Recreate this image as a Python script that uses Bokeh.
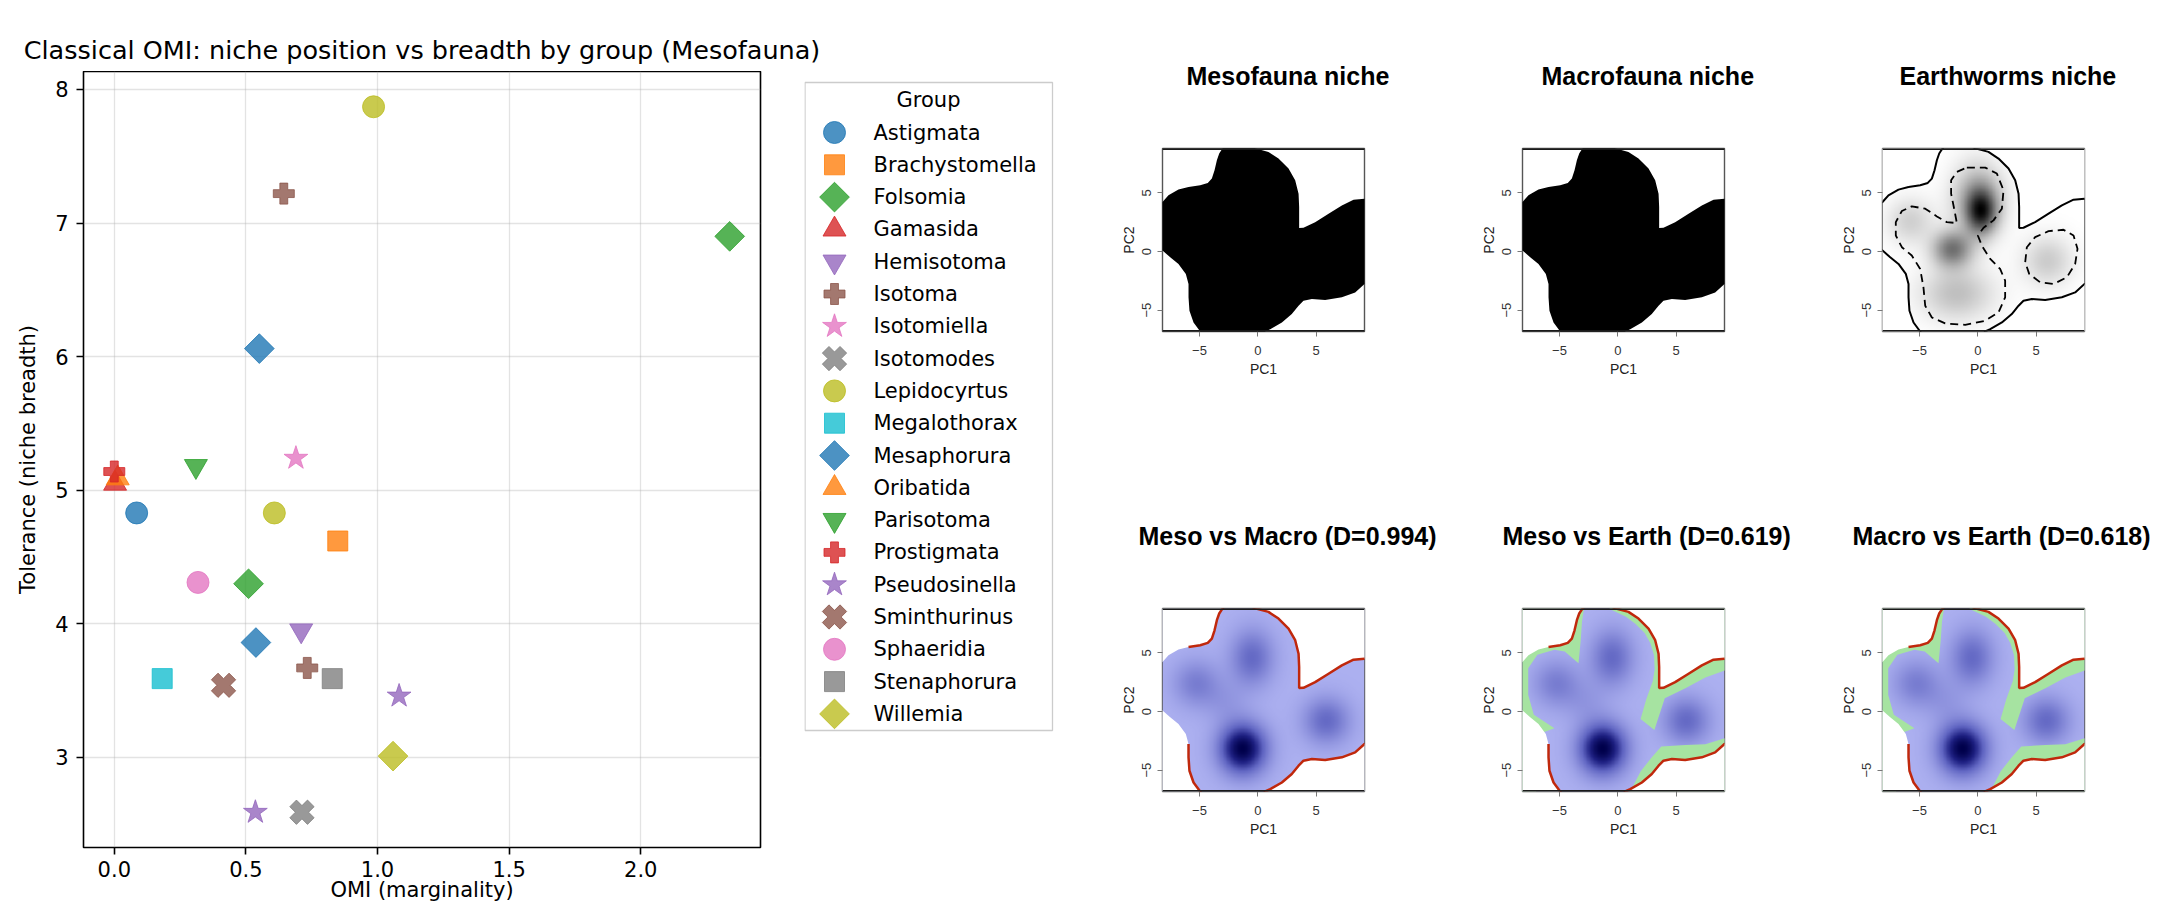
import numpy as np
from bokeh.plotting import figure
from bokeh.models import Range1d, FixedTicker, Span, LinearColorMapper, PrintfTickFormatter
from bokeh.layouts import row, column
from bokeh.embed import file_html
from bokeh.resources import INLINE
from bokeh.core.properties import value

# ---------------- data: classical OMI scatter ----------------
GROUPS = ["Astigmata", "Brachystomella", "Folsomia", "Gamasida", "Hemisotoma", "Isotoma",
          "Isotomiella", "Isotomodes", "Lepidocyrtus", "Megalothorax", "Mesaphorura", "Oribatida",
          "Parisotoma", "Prostigmata", "Pseudosinella", "Sminthurinus", "Sphaeridia",
          "Stenaphorura", "Willemia"]
PT_GROUP = ["Lepidocyrtus", "Isotoma", "Folsomia", "Mesaphorura", "Isotomiella", "Parisotoma",
            "Prostigmata", "Oribatida", "Gamasida", "Astigmata", "Lepidocyrtus", "Brachystomella",
            "Sphaeridia", "Folsomia", "Hemisotoma", "Mesaphorura", "Isotoma", "Megalothorax",
            "Stenaphorura", "Sminthurinus", "Pseudosinella", "Willemia", "Pseudosinella", "Isotomodes"]
PT_OMI = [0.985, 0.644, 2.338, 0.551, 0.690, 0.310, 0.000, 0.013, 0.003, 0.085, 0.608, 0.849,
          0.318, 0.510, 0.710, 0.538, 0.733, 0.182, 0.828, 0.415, 1.082, 1.059, 0.536, 0.713]
PT_TOL = [7.87, 7.22, 6.90, 6.06, 5.24, 5.18, 5.14, 5.09, 5.05, 4.83, 4.83, 4.62,
          4.31, 4.30, 3.95, 3.86, 3.67, 3.59, 3.59, 3.54, 3.46, 3.01, 2.59, 2.59]
X_TICKS = [0.0, 0.5, 1.0, 1.5, 2.0]
Y_TICKS = [3, 4, 5, 6, 7, 8]

# ---------------- data: niche panels (PC1/PC2 space) ----------------
OUT_X = [-5.94, -4.94, -4.29, -3.94, -3.71, -3.51, -3.31, -3.09, -2.8, -1.7,
         -0.9, -0.23, 0.91, 1.77, 2.63, 3.2, 3.49, 3.54, 3.54, 3.91,
         4.91, 6.06, 7.2, 8.2, 9.14, 10.2, 10.2, 9.14, 8.34, 7.2,
         5.77, 4.63, 3.91, 3.49, 2.91, 2.06, 1.06, 0.63, 0.2, -4.6,
         -4.94, -5.51, -5.86, -5.94, -5.94, -6.17, -6.8, -7.51, -8.17, -8.9,
         -8.9, -8.17, -7.66, -6.8]
OUT_Y = [5.51, 5.66, 5.86, 6.23, 6.94, 7.8, 8.37, 8.71, 9.1, 9.3,
         9.15, 8.82, 8.51, 7.94, 7.09, 6.09, 4.94, 3.8, 2.0, 2.03,
         2.51, 3.23, 3.94, 4.43, 4.51, 4.5, -2.77, -2.77, -3.49, -3.91,
         -4.14, -4.06, -4.2, -4.63, -5.34, -6.06, -6.63, -6.83, -7.4, -7.4,
         -6.83, -6.06, -5.06, -3.91, -2.77, -1.91, -1.06, -0.49, 0.09, 0.4,
         3.9, 4.23, 4.8, 5.29]
RED_XMIN = -6.0
BLUE_X = [-2.78, -0.7, -0.7, 0.7, 1.5, 2.3, 2.8, 3.1, 3.15, 3.0,
          2.45, 1.95, 3.13, 4.02, 5.79, 7.5, 9.16, 10.5, 10.5, 9.16,
          7.5, 5.79, 3.72, 2.84, 1.95, 1.06, 0.77, -7.0, -7.0, -5.43,
          -7.2, -7.68, -7.68, -6.9, -5.43, -4.55, -3.37, -3.19, -3.07]
BLUE_Y = [9.6, 9.6, 8.75, 8.1, 7.5, 6.7, 5.8, 4.8, 3.6, 2.6,
          1.1, -0.63, -1.57, 1.14, 1.99, 2.9, 3.5, 3.5, -2.2, -2.28,
          -2.8, -2.85, -2.99, -3.99, -5.12, -6.83, -7.7, -7.7, -2.0, -1.42,
          -0.28, 1.42, 3.7, 4.84, 5.27, 5.12, 4.13, 5.98, 7.69]
DASH_A_X = [-0.94, 0.63, 1.63, 2.2, 2.06, 1.34, 0.49, 0.0, 0.34, 1.06,
            1.91, 2.34, 2.34, 1.77, 0.63, -1.09, -2.8, -3.94, -4.51, -4.66,
            -4.94, -5.66, -6.51, -7.03, -7.03, -6.51, -5.66, -4.51, -3.51, -2.66,
            -1.8, -2.0, -2.29, -2.29, -1.8]
DASH_A_Y = [7.17, 7.17, 6.66, 5.23, 3.66, 2.66, 2.03, 1.37, 0.51, -0.63,
            -1.49, -2.49, -3.91, -5.2, -5.91, -6.26, -6.14, -5.63, -4.63, -3.06,
            -1.49, -0.34, 0.37, 1.37, 2.51, 3.46, 3.86, 3.66, 3.0, 2.51,
            2.43, 3.51, 4.94, 6.09, 6.8]
DASH_B_X = [4.06, 4.2, 4.91, 6.06, 7.34, 8.2, 8.54, 8.34, 7.63, 6.49, 5.34, 4.4]
DASH_B_Y = [-0.91, 0.37, 1.23, 1.74, 1.86, 1.37, 0.23, -1.06, -2.2, -2.77, -2.63, -1.91]
MESO_KX = [-1.3, -0.5, 5.9, -5.3, -2.8]
MESO_KY = [-3.2, 4.6, -0.8, 2.4, 0.8]
MESO_SX = [1.4, 1.3, 1.4, 1.4, 1.3]
MESO_SY = [1.5, 1.7, 1.4, 1.4, 1.3]
MESO_W = [1.0, 0.42, 0.42, 0.30, 0.12]
EARTH_KX = [0.3, 0.0, -2.2, -1.8, 6.0, -5.8]
EARTH_KY = [3.4, 4.5, 0.2, -3.6, -0.8, 2.6]
EARTH_SX = [0.9, 1.5, 1.2, 2.2, 1.5, 1.4]
EARTH_SY = [1.3, 2.1, 1.1, 1.6, 1.5, 1.4]
EARTH_W = [0.72, 0.42, 0.58, 0.27, 0.22, 0.20]
NICHE_TITLES = ["Mesofauna niche", "Macrofauna niche", "Earthworms niche"]
PAIRS = [("Meso", "Macro"), ("Meso", "Earth"), ("Macro", "Earth")]
D_VALUES = [0.994, 0.619, 0.618]
PC_TICKS = [-5, 0, 5]

# ---------------- styles ----------------
TAB10 = ["#1f77b4", "#ff7f0e", "#2ca02c", "#d62728", "#9467bd",
         "#8c564b", "#e377c2", "#7f7f7f", "#bcbd22", "#17becf"]
MARKER_CYCLE = ["o", "s", "D", "^", "v", "P", "*", "X"]
MARKER_STYLE = {"o": ("circle", 0.0, 22), "s": ("square", 0.0, 20), "D": ("square", np.pi / 4, 21),
                "^": ("triangle", 0.0, 23), "v": ("inverted_triangle", 0.0, 23),
                "P": ("plus", 0.0, 21), "*": ("star", 0.0, 25), "X": ("plus", np.pi / 4, 25)}
MPL_FONT = "DejaVu Sans"
R_FONT = "Liberation Sans"
TOTAL_H = 909

# ================= left block =================
HEAD_H = 71
LEFT_W = 1054
SC_W = 804
LG_W = LEFT_W - SC_W
BODY_H = TOTAL_H - HEAD_H
FRAME_BOTTOM = 847
SC_BB = TOTAL_H - FRAME_BOTTOM

header = figure(width=LEFT_W, height=HEAD_H, x_range=Range1d(0, LEFT_W), y_range=Range1d(HEAD_H, 0),
                output_backend="svg", toolbar_location=None, x_axis_type=None, y_axis_type=None,
                min_border_left=0, min_border_right=0, min_border_top=0, min_border_bottom=0,
                title=None)
header.grid.visible = False
header.outline_line_color = None
header.text(x=[421.5], y=[49], text=["Classical OMI: niche position vs breadth by group (Mesofauna)"],
            text_align="center", text_baseline="middle", text_font=value(MPL_FONT),
            text_font_size="25.5px", text_color="black")

XL = (-0.117, 2.455)
YL = (2.326, 8.134)
sc = figure(width=SC_W, height=BODY_H, x_range=Range1d(*XL), y_range=Range1d(*YL),
            output_backend="svg", toolbar_location=None, title=None,
            min_border_left=83, min_border_right=SC_W - 760, min_border_top=0, min_border_bottom=SC_BB)
sc.outline_line_color = "black"
sc.outline_line_width = 1.6
sc.grid.grid_line_color = "#b0b0b0"
sc.grid.grid_line_alpha = 0.35
sc.grid.grid_line_width = 1.3
sc.xaxis.ticker = FixedTicker(ticks=X_TICKS)
sc.yaxis.ticker = FixedTicker(ticks=Y_TICKS)
sc.xaxis.formatter = PrintfTickFormatter(format="%.1f")
sc.axis.axis_line_color = None
sc.axis.major_tick_line_color = "black"
sc.axis.major_tick_line_width = 1.6
sc.axis.major_tick_out = 7
sc.axis.major_tick_in = 0
sc.axis.minor_tick_line_color = None
sc.axis.major_label_text_font = MPL_FONT
sc.axis.major_label_text_font_size = "21px"
sc.axis.major_label_text_color = "black"
sc.xaxis.major_label_standoff = 6
sc.yaxis.major_label_standoff = 8
sc.axis.axis_label_text_font = MPL_FONT
sc.axis.axis_label_text_font_size = "21px"
sc.axis.axis_label_text_font_style = "normal"
sc.axis.axis_label_text_color = "black"
sc.yaxis.axis_label = "Tolerance (niche breadth)"
sc.yaxis.axis_label_standoff = 12
sc.xaxis.axis_label = "OMI (marginality)"
sc.xaxis.axis_label_standoff = -2

for gi, g in enumerate(GROUPS):
    idx = [i for i, pg in enumerate(PT_GROUP) if pg == g]
    mk, ang, sz = MARKER_STYLE[MARKER_CYCLE[gi % len(MARKER_CYCLE)]]
    col = TAB10[gi % len(TAB10)]
    sc.scatter([PT_OMI[i] for i in idx], [PT_TOL[i] for i in idx], marker=mk, angle=ang, size=sz,
               fill_color=col, fill_alpha=0.8, line_color=col, line_alpha=0.8, line_width=1)

# legend drawn in its own figure (pixel coordinates, y downward from the frame top)
LG_FH = BODY_H - SC_BB
lg = figure(width=LG_W, height=BODY_H, x_range=Range1d(0, LG_W), y_range=Range1d(LG_FH, 0),
            output_backend="svg", toolbar_location=None, x_axis_type=None, y_axis_type=None, title=None,
            min_border_left=0, min_border_right=0, min_border_top=0, min_border_bottom=SC_BB)
lg.grid.visible = False
lg.outline_line_color = None
lg.quad(left=[0.5], right=[248], top=[11], bottom=[659], fill_color="white",
        line_color="#cccccc", line_width=1.3)
lg.text(x=[124], y=[28], text=["Group"], text_align="center", text_baseline="middle",
        text_font=value(MPL_FONT), text_font_size="21px", text_color="black")
for gi, g in enumerate(GROUPS):
    mk, ang, sz = MARKER_STYLE[MARKER_CYCLE[gi % len(MARKER_CYCLE)]]
    col = TAB10[gi % len(TAB10)]
    lg.scatter([30], [61 + 32.3 * gi], marker=mk, angle=ang, size=sz, fill_color=col, fill_alpha=0.8,
               line_color=col, line_alpha=0.8, line_width=1)
lg.text(x=[69] * len(GROUPS), y=[61 + 32.3 * i for i in range(len(GROUPS))], text=GROUPS,
        text_align="left", text_baseline="middle", text_font=value(MPL_FONT),
        text_font_size="21px", text_color="black")

left_block = column(header, row(sc, lg))

# ================= niche panels =================
XMIN, XMAX = -8.17, 9.14
YMIN, YMAX = -6.83, 8.80
gx = np.linspace(XMIN, XMAX, 260)
gy = np.linspace(YMIN, YMAX, 240)
GX, GY = np.meshgrid(gx, gy)


def kde(kx, ky, sx, sy, w):
    z = np.zeros_like(GX)
    for a, b, c, d, e in zip(kx, ky, sx, sy, w):
        z += e * np.exp(-0.5 * (((GX - a) / c) ** 2 + ((GY - b) / d) ** 2))
    return z / z.max()


def ramp(stops, n=256):
    pos = np.array([s[0] for s in stops])
    cols = np.array([s[1] for s in stops], dtype=float)
    t = np.linspace(0, 1, n)
    r = np.interp(t, pos, cols[:, 0]); g = np.interp(t, pos, cols[:, 1]); b = np.interp(t, pos, cols[:, 2])
    return ["#%02x%02x%02x" % (int(round(a)), int(round(bb)), int(round(c))) for a, bb, c in zip(r, g, b)]


BLUE_PAL = ramp([(0.0, (172, 176, 240)), (0.45, (96, 101, 194)), (0.75, (30, 32, 130)), (1.0, (0, 0, 75))])
GREY_PAL = ramp([(0.0, (255, 255, 255)), (1.0, (0, 0, 0))])
Z_MESO = kde(MESO_KX, MESO_KY, MESO_SX, MESO_SY, MESO_W)
Z_EARTH = kde(EARTH_KX, EARTH_KY, EARTH_SX, EARTH_SY, EARTH_W)


def signed_area(xs, ys):
    x = np.asarray(xs); y = np.asarray(ys)
    return 0.5 * np.sum(x * np.roll(y, -1) - np.roll(x, -1) * y)


def oriented(xs, ys, ccw):
    if (signed_area(xs, ys) > 0) != ccw:
        return list(xs[::-1]), list(ys[::-1])
    return list(xs), list(ys)


OUTER_X, OUTER_Y = oriented([-40, 40, 40, -40], [-40, -40, 40, 40], True)


def mask_outside(p, hx, hy, color):
    hx2, hy2 = oriented(hx, hy, False)
    p.multi_polygons(xs=[[[OUTER_X, hx2]]], ys=[[[OUTER_Y, hy2]]], fill_color=color, line_color=None)


FW, FH = 202, 183
BT = 148
# canvas width and left border of each panel column (frames at x = 1162, 1522, 1882)
WIDTHS = [411, 350, 339]
BLS = [108, 57, 67]
TOP_H = 460
BOT_H = TOTAL_H - TOP_H
TOP_TITLE_OFFSETS = [24, 19, 17]
BOT_TITLE_OFFSETS = [-24, -20, -30]


def r_panel(w, bl, h, title, offset):
    p = figure(width=w, height=h, x_range=Range1d(XMIN, XMAX), y_range=Range1d(YMIN, YMAX),
               output_backend="svg", toolbar_location=None,
               min_border_left=bl, min_border_right=w - bl - FW, min_border_top=BT,
               min_border_bottom=h - BT - FH)
    p.title.text = title
    p.title.align = "left"
    p.title.offset = offset
    p.title.standoff = 117
    p.title.text_font = R_FONT
    p.title.text_font_size = "25px"
    p.title.text_font_style = "bold"
    p.title.text_color = "black"
    p.grid.visible = False
    p.outline_line_color = "#555555"
    p.outline_line_width = 1.4
    p.xaxis.ticker = FixedTicker(ticks=PC_TICKS)
    p.yaxis.ticker = FixedTicker(ticks=PC_TICKS)
    p.axis.axis_line_color = None
    p.axis.major_tick_line_color = "#777777"
    p.axis.major_tick_out = 5
    p.axis.major_tick_in = 0
    p.axis.minor_tick_line_color = None
    p.axis.major_label_text_font = R_FONT
    p.axis.major_label_text_font_size = "13px"
    p.axis.major_label_text_color = "#333333"
    p.xaxis.major_label_standoff = 9
    p.yaxis.major_label_standoff = 6
    p.yaxis.major_label_orientation = "vertical"
    p.xaxis.axis_label = "PC1"
    p.yaxis.axis_label = "PC2"
    p.axis.axis_label_text_font = R_FONT
    p.axis.axis_label_text_font_size = "14px"
    p.axis.axis_label_text_font_style = "normal"
    p.axis.axis_label_text_color = "#222222"
    p.xaxis.axis_label_standoff = 3
    p.yaxis.axis_label_standoff = 3
    return p


def frame_edges(p):
    p.add_layout(Span(location=YMAX, dimension="width", line_color="#1a1a1a", line_width=3))
    p.add_layout(Span(location=YMIN, dimension="width", line_color="#1a1a1a", line_width=3))


out_cx = OUT_X + [OUT_X[0]]
out_cy = OUT_Y + [OUT_Y[0]]
red_mask = np.array(OUT_X) >= RED_XMIN
red_x = list(np.array(OUT_X)[red_mask])
red_y = list(np.array(OUT_Y)[red_mask])

top_figs = []
for k in range(3):
    p = r_panel(WIDTHS[k], BLS[k], TOP_H, NICHE_TITLES[k], TOP_TITLE_OFFSETS[k])
    if k < 2:
        p.patch(OUT_X, OUT_Y, fill_color="black", line_color=None)
    else:
        p.image(image=[Z_EARTH], x=XMIN, y=YMIN, dw=XMAX - XMIN, dh=YMAX - YMIN,
                color_mapper=LinearColorMapper(palette=GREY_PAL, low=0, high=1))
        mask_outside(p, OUT_X, OUT_Y, "white")
        p.line(out_cx, out_cy, line_color="black", line_width=2)
        p.line(DASH_A_X + [DASH_A_X[0]], DASH_A_Y + [DASH_A_Y[0]], line_color="black",
               line_width=1.8, line_dash="8 5")
        p.line(DASH_B_X + [DASH_B_X[0]], DASH_B_Y + [DASH_B_Y[0]], line_color="black",
               line_width=1.8, line_dash="8 5")
    frame_edges(p)
    top_figs.append(p)

bot_figs = []
for k in range(3):
    a, b = PAIRS[k]
    p = r_panel(WIDTHS[k], BLS[k], BOT_H, f"{a} vs {b} (D={D_VALUES[k]:.3f})", BOT_TITLE_OFFSETS[k])
    p.image(image=[Z_MESO], x=XMIN, y=YMIN, dw=XMAX - XMIN, dh=YMAX - YMIN,
            color_mapper=LinearColorMapper(palette=BLUE_PAL, low=0, high=1))
    if k > 0:
        mask_outside(p, BLUE_X, BLUE_Y, "#a6e3a1")
    mask_outside(p, OUT_X, OUT_Y, "white")
    p.line(red_x, red_y, line_color="#c0280c", line_width=2.5)
    frame_edges(p)
    bot_figs.append(p)

layout = row(left_block, column(row(*top_figs), row(*bot_figs)))
open("out.html", "w").write(file_html(layout, INLINE))
